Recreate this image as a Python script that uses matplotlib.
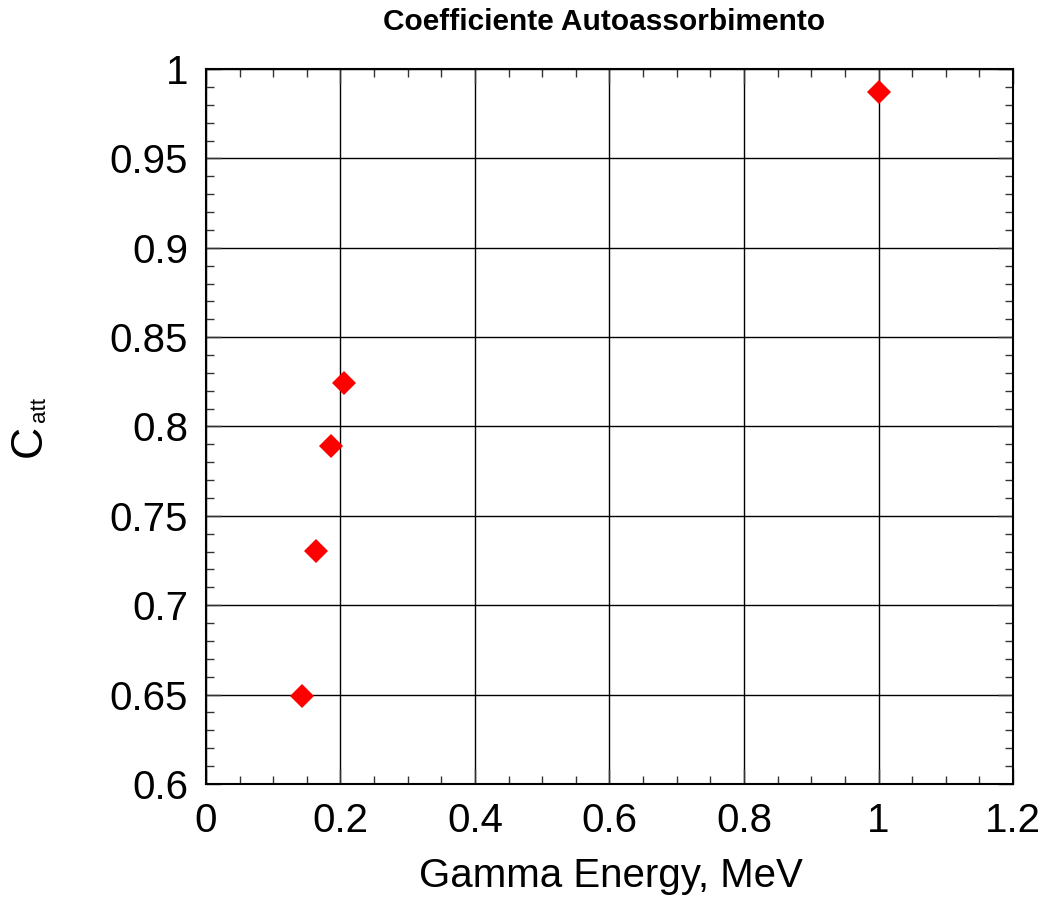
import matplotlib
matplotlib.use('Agg')
import matplotlib.pyplot as plt
from matplotlib.ticker import MultipleLocator

plt.rcParams['font.family'] = ['Liberation Sans', 'DejaVu Sans']

# energia gamma (MeV) e coefficiente di autoassorbimento
energy = [0.143, 0.163, 0.186, 0.205, 1.0]
c_att = [0.649, 0.7305, 0.789, 0.8245, 0.987]

fig = plt.figure(figsize=(10.45, 9.06), dpi=100)
ax = fig.add_axes([0.1971, 0.1347, 0.9694 - 0.1971, 0.9238 - 0.1347])

ax.plot(energy, c_att, linestyle='none', marker='D', markersize=12.5,
        color='red', markeredgewidth=0, zorder=5)

ax.set_xlim(0, 1.2)
ax.set_ylim(0.6, 1.0)
ax.xaxis.set_major_locator(MultipleLocator(0.2))
ax.xaxis.set_minor_locator(MultipleLocator(0.05))
ax.yaxis.set_major_locator(MultipleLocator(0.05))
ax.yaxis.set_minor_locator(MultipleLocator(0.01))

def fmt(v, pos):
    s = ('%.2f' % v).rstrip('0').rstrip('.')
    return s
ax.xaxis.set_major_formatter(plt.FuncFormatter(fmt))
ax.yaxis.set_major_formatter(plt.FuncFormatter(fmt))

ax.grid(True, which='major', color='black', linewidth=1.0)
ax.tick_params(which='both', direction='in', top=True, right=True,
               labelsize=29, width=1.0, color='#333333')
ax.tick_params(which='major', length=11)
ax.tick_params(which='minor', length=6)
ax.tick_params(axis='x', pad=13)
ax.tick_params(axis='y', pad=13)
for sp in ax.spines.values():
    sp.set_linewidth(1.5)

# titolo ed etichette
fig.text(604 / 1045, 1 - 22 / 906, 'Coefficiente Autoassorbimento',
         ha='center', va='center', fontsize=21.5, fontweight='bold')
fig.text(611 / 1045, 1 - 876 / 906, 'Gamma Energy, MeV',
         ha='center', va='center', fontsize=29)
fig.text(29 / 1045, 1 - 441 / 906, 'C', rotation=90,
         ha='center', va='center', fontsize=32)
fig.text(40 / 1045, 1 - 410 / 906, 'att', rotation=90,
         ha='center', va='center', fontsize=16)

fig.savefig('out.png', dpi=100)
